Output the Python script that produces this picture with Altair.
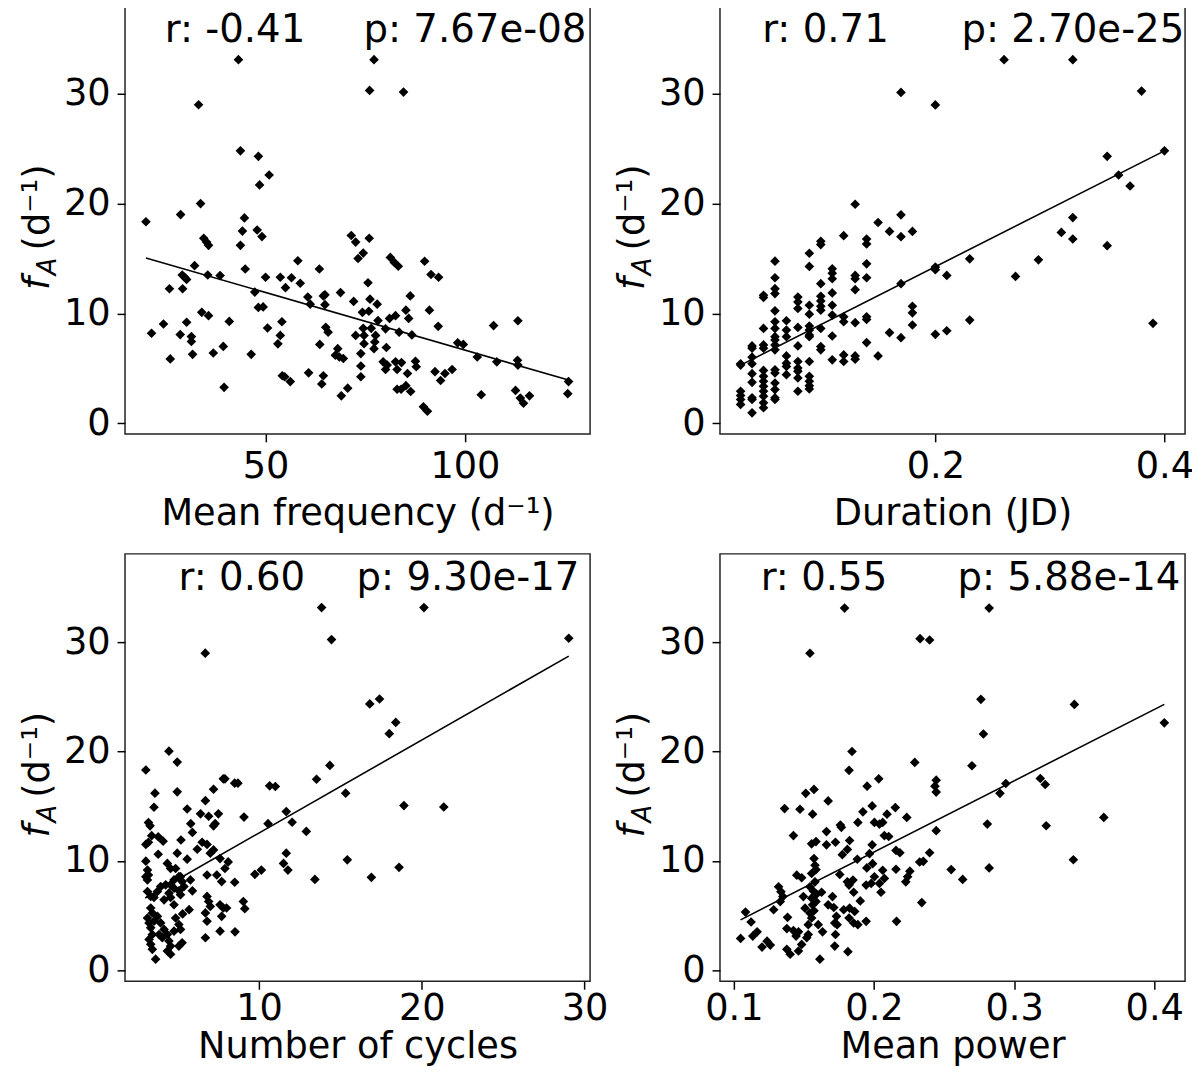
import altair as alt
import pandas as pd

FONT = "DejaVu Sans"

# Mean frequency (d^-1) vs f_A
freq_pts = [
    (20.0, 18.35), (43.2, 33.1), (33.2, 29.0), (43.7, 24.8), (48.2, 24.3), (50.9, 22.6), (48.5, 21.7),
    (33.7, 20.0), (28.7, 19.0), (44.7, 18.7), (44.2, 17.5), (47.9, 17.6), (49.1, 17.0), (34.5, 16.85),
    (35.2, 16.5), (35.7, 16.2), (43.7, 16.2), (71.5, 17.1), (72.6, 16.5), (73.2, 15.0), (58.1, 14.8),
    (63.5, 14.05), (32.2, 14.35), (44.9, 14.05), (29.1, 13.5), (29.7, 13.3), (30.2, 13.1), (35.5, 13.5),
    (38.6, 13.45), (50.0, 13.3), (53.7, 13.3), (56.5, 13.25), (55.0, 12.35), (58.7, 12.75), (25.9, 12.25),
    (29.2, 12.25), (47.3, 11.95), (60.6, 11.5), (61.2, 10.85), (64.9, 11.7), (64.5, 11.6), (64.9, 10.8),
    (68.8, 11.9), (72.1, 11.1), (48.2, 10.55), (49.4, 10.6), (34.0, 10.1), (35.7, 9.8), (24.4, 9.04),
    (21.4, 8.2), (30.2, 9.2), (28.6, 8.08), (31.4, 7.9), (31.4, 7.45), (40.9, 9.28), (50.5, 8.68),
    (54.1, 9.25), (53.7, 8.0), (53.1, 7.24), (65.1, 8.74), (65.7, 8.3), (63.6, 7.18), (68.1, 6.8),
    (67.5, 6.2), (68.5, 6.04), (69.5, 5.9), (26.1, 5.86), (31.7, 6.28), (36.9, 6.4), (39.4, 7.0),
    (46.4, 6.28), (54.2, 4.33), (54.8, 4.24), (56.2, 3.8), (60.8, 4.6), (64.5, 4.33), (64.1, 3.58),
    (39.6, 3.28), (69.0, 2.5), (70.6, 3.2),
    (77.2, 33.1), (76.1, 30.3), (84.6, 30.15), (74.5, 15.5), (76.0, 16.85), (81.3, 15.1), (82.3, 14.65),
    (83.3, 14.3), (89.9, 14.75), (91.5, 13.55), (93.4, 13.3), (75.7, 12.8), (86.3, 11.6), (91.1, 10.3),
    (76.2, 11.3), (78.0, 10.85), (74.3, 10.1), (75.9, 10.2), (85.2, 10.3), (85.9, 9.55), (81.1, 9.55),
    (82.6, 9.8), (78.2, 9.35), (80.1, 8.6), (83.5, 8.3), (86.7, 8.05), (93.3, 8.83), (76.5, 8.65),
    (74.5, 8.65), (77.6, 8.0), (74.7, 8.0), (72.6, 8.0), (77.4, 7.4), (77.2, 6.8), (74.7, 7.25),
    (80.3, 6.9), (73.9, 6.35), (98.2, 7.33), (99.6, 7.18), (107.2, 8.9), (113.3, 9.34), (103.1, 6.04),
    (108.0, 5.6), (113.2, 5.74), (113.3, 5.3), (79.5, 5.6), (80.5, 5.3), (80.1, 4.9), (82.6, 5.6),
    (84.1, 5.53), (83.0, 4.9), (87.6, 5.65), (87.8, 5.15), (85.6, 4.54), (73.9, 5.22), (73.9, 4.24),
    (92.5, 4.7), (93.9, 3.9), (95.0, 4.54), (96.8, 4.9), (85.2, 3.43), (84.0, 3.1), (83.0, 3.1),
    (86.4, 2.9), (89.6, 1.5), (90.6, 1.1), (104.1, 2.6), (112.7, 3.0), (113.9, 2.3), (114.7, 1.83),
    (116.2, 2.5), (126.0, 3.8), (125.8, 2.7),
]
freq_fit_x = [20.0, 126.0]
freq_fit_y = [15.05, 3.94]

# Duration (JD) vs f_A, durations come in steps of ~0.01 JD
dur_cols = {
    0.03: [5.42, 5.3, 2.92, 2.53, 2.17, 1.72],
    0.04: [7.05, 6.84, 6.02, 5.42, 4.52, 3.73, 2.32, 2.17, 0.96],
    0.05: [11.66, 11.45, 8.64, 7.14, 6.84, 4.82, 4.28, 3.83, 3.37, 2.92, 2.47, 1.87, 1.42],
    0.06: [14.76, 13.25, 12.26, 11.81, 10.24, 9.25, 8.64, 7.89, 7.59, 7.14, 6.69, 4.88, 4.58, 3.67, 3.07, 2.32, 2.17],
    0.07: [9.34, 8.49, 7.89, 6.14, 5.48, 5.18, 4.43],
    0.08: [11.5, 11.05, 10.45, 8.73, 7.05, 5.63, 5.03, 4.73, 4.13, 2.92],
    0.09: [15.48, 14.28, 10.75, 9.94, 8.86, 8.49, 8.04, 7.89, 5.63, 4.28, 3.83, 3.43, 3.13],
    0.10: [16.57, 16.27, 12.71, 11.57, 11.14, 10.66, 10.3, 8.64, 6.99, 6.69],
    0.11: [14.07, 13.67, 13.16, 11.87, 10.75, 9.85, 7.95, 5.78],
    0.12: [17.08, 9.7, 9.25, 6.23, 5.63],
    0.13: [19.94, 13.46, 13.16, 12.17, 9.16, 6.14, 5.84],
    0.14: [16.78, 16.33, 14.52, 13.25, 9.7, 9.46, 7.35],
    0.15: [18.28, 6.14],
    0.16: [17.47, 8.25],
    0.17: [30.12, 18.98, 16.99, 12.71, 7.8],
    0.18: [17.47, 10.66, 10.06, 8.95],
    0.20: [28.98, 14.22, 13.98, 8.1],
    0.21: [13.46, 8.43],
    0.23: [14.97, 9.4],
    0.26: [33.1],
    0.27: [13.37],
    0.29: [14.88],
    0.31: [17.38],
    0.32: [33.1, 18.73, 16.78],
    0.35: [24.3, 16.17],
    0.36: [22.6],
    0.37: [21.6],
    0.38: [30.24],
    0.39: [9.1],
    0.40: [24.8],
}
dur_pts = [(d, v) for d, vals in dur_cols.items() for v in vals]
dur_fit_x = [0.03, 0.40]
dur_fit_y = [5.3, 24.8]

# Number of cycles vs f_A
cyc_pts = [
    (6.69, 29.0), (4.46, 20.03), (4.97, 19.03), (3.04, 18.31), (3.6, 16.19), (4.97, 16.31), (3.54, 14.9),
    (7.8, 17.5), (7.9, 17.5), (8.5, 17.1), (8.7, 17.1), (7.2, 16.55), (6.7, 15.5), (5.58, 14.74),
    (6.4, 14.3), (6.9, 14.08), (7.2, 13.2), (7.3, 13.4), (7.5, 14.3), (5.8, 13.4), (5.9, 12.6),
    (9.07, 14.0), (10.55, 13.4), (11.0, 16.8), (10.65, 16.86), (11.67, 14.5), (3.2, 13.5), (3.3, 13.2),
    (3.4, 12.3), (3.8, 12.2), (4.1, 11.8), (3.04, 11.5), (3.2, 11.7), (5.2, 11.9), (6.5, 11.7),
    (6.8, 11.5), (7.2, 11.0), (7.0, 10.7), (6.2, 11.06), (3.8, 10.6), (4.97, 10.7), (5.58, 10.15),
    (3.04, 9.97), (3.14, 9.15), (3.2, 8.7), (3.04, 8.55), (3.14, 8.25), (4.36, 9.76), (4.56, 9.3),
    (4.87, 9.3), (5.07, 8.55), (4.77, 8.25), (4.26, 7.8), (3.95, 7.64), (3.75, 7.19), (4.56, 7.8),
    (4.77, 7.5), (4.46, 7.04), (5.17, 8.55), (5.27, 8.1), (5.38, 7.64), (5.78, 8.25), (5.9, 7.25),
    (3.14, 7.19), (3.34, 6.74), (3.54, 6.65), (4.16, 6.43), (4.56, 6.65), (4.77, 5.98), (5.07, 7.25),
    (5.17, 6.9), (6.8, 8.7), (7.4, 8.7), (7.7, 8.1), (8.1, 9.9), (7.9, 9.3), (8.5, 8.04), (7.6, 10.2),
    (9.74, 8.76), (10.14, 9.15), (11.67, 10.7), (11.5, 9.76), (11.77, 9.15), (6.8, 6.74), (6.9, 6.28),
    (7.0, 5.83), (6.7, 5.23), (6.8, 4.47), (7.6, 5.98), (7.8, 5.68), (8.0, 5.68), (7.7, 4.92),
    (7.6, 3.56), (8.52, 3.5), (6.7, 2.96), (9.03, 6.28), (9.12, 5.62), (5.7, 5.53), (5.3, 5.14),
    (3.34, 5.68), (3.44, 5.23), (3.14, 4.77), (3.24, 4.32), (3.54, 4.47), (3.34, 3.87), (3.44, 3.26),
    (3.24, 2.81), (3.34, 2.36), (3.44, 1.9), (3.64, 1.0), (3.75, 4.92), (3.95, 4.32), (4.16, 3.72),
    (3.85, 3.26), (4.05, 2.96), (4.36, 3.26), (4.46, 2.66), (4.56, 2.2), (4.36, 1.75), (4.56, 1.45),
    (4.87, 4.77), (5.07, 4.17), (5.17, 3.72), (4.77, 3.56), (5.27, 2.5), (5.07, 2.2),
    (13.84, 33.17), (14.45, 30.24), (20.13, 33.17), (29.03, 30.36), (16.8, 24.35), (17.4, 24.8),
    (18.4, 22.66), (18.0, 21.63), (14.35, 18.73), (13.53, 17.46), (15.32, 16.19), (18.9, 15.05),
    (21.35, 14.92), (12.03, 13.53), (12.9, 12.69), (15.42, 10.09), (13.43, 8.3), (16.9, 8.49),
    (18.6, 9.4),
]
cyc_fit_x = [3.0, 29.03]
cyc_fit_y = [6.6, 28.73]

# Mean power vs f_A
pow_pts = [
    (0.179, 33.12), (0.1543, 28.99), (0.2329, 30.32), (0.2397, 30.2), (0.1843, 20.0), (0.1822, 18.28),
    (0.2291, 19.0), (0.2034, 17.5), (0.1951, 16.83), (0.2444, 17.38), (0.2435, 16.83), (0.2444, 16.29),
    (0.1513, 16.17), (0.1572, 16.53), (0.1673, 15.48), (0.1362, 14.78), (0.1472, 14.72), (0.1562, 14.27),
    (0.1987, 15.02), (0.1921, 14.48), (0.2152, 14.87), (0.2093, 14.27), (0.2234, 13.97), (0.1885, 13.51),
    (0.2003, 13.51), (0.2039, 13.36), (0.2062, 13.51), (0.176, 13.27), (0.1767, 13.06), (0.1661, 12.67),
    (0.1425, 12.31), (0.2074, 12.31), (0.2105, 12.22), (0.1826, 11.86), (0.1725, 11.7), (0.1661, 11.46),
    (0.1555, 11.55), (0.1586, 11.76), (0.1987, 11.46), (0.2157, 10.95), (0.2185, 10.74), (0.181, 11.04),
    (0.1774, 10.56), (0.2444, 12.76), (0.2397, 10.74), (0.2352, 9.95), (0.2326, 9.89), (0.1968, 10.65),
    (0.1572, 10.2), (0.1579, 9.59), (0.1586, 9.2), (0.1555, 8.84), (0.1881, 10.14), (0.199, 9.74),
    (0.1949, 9.35), (0.2062, 9.14), (0.2157, 9.23), (0.2256, 9.05), (0.224, 8.54), (0.2227, 8.08),
    (0.1449, 8.69), (0.1484, 8.45), (0.1756, 8.75), (0.181, 8.08), (0.185, 8.24), (0.1822, 7.78),
    (0.2003, 8.54), (0.198, 7.93), (0.1944, 7.78), (0.2074, 8.39), (0.2039, 7.93), (0.205, 7.12),
    (0.1579, 8.08), (0.1543, 7.63), (0.1567, 7.24), (0.159, 6.94), (0.1555, 6.58), (0.1586, 6.27),
    (0.1562, 5.97), (0.1319, 7.63), (0.1336, 7.18), (0.135, 6.73), (0.1331, 6.27), (0.1496, 6.73),
    (0.1626, 7.12), (0.1704, 6.73), (0.1673, 5.97), (0.1713, 5.73), (0.1855, 7.12), (0.1902, 6.33),
    (0.1284, 5.52), (0.1083, 5.31), (0.1826, 5.67), (0.1862, 5.37), (0.1784, 5.52), (0.1508, 5.67),
    (0.1543, 5.22), (0.1572, 5.43), (0.1555, 4.77), (0.1531, 4.16), (0.1602, 4.16), (0.1383, 4.83),
    (0.1732, 4.92), (0.172, 4.31), (0.1737, 4.16), (0.1822, 4.77), (0.1855, 4.31), (0.1885, 4.16),
    (0.1944, 4.46), (0.2161, 4.46), (0.2341, 6.18), (0.1123, 4.4), (0.1166, 3.5), (0.1135, 3.11),
    (0.1048, 2.9), (0.1378, 3.8), (0.1425, 3.62), (0.1461, 3.5), (0.1444, 3.11), (0.1237, 2.65),
    (0.126, 2.29), (0.1201, 2.11), (0.1378, 1.9), (0.1402, 1.45), (0.1461, 1.75), (0.1484, 2.35),
    (0.152, 2.96), (0.1531, 3.26), (0.1633, 3.5), (0.1725, 3.26), (0.172, 2.2), (0.1814, 1.69),
    (0.1614, 1.0),
    (0.2822, 33.12), (0.2763, 24.77), (0.2781, 21.6), (0.343, 24.31), (0.4072, 22.62), (0.2699, 18.7),
    (0.2941, 17.07), (0.2899, 16.17), (0.3187, 17.53), (0.3222, 16.98), (0.2809, 13.36), (0.3229, 13.21),
    (0.364, 13.97), (0.2551, 9.2), (0.2633, 8.3), (0.2822, 9.35), (0.3423, 10.1),
]
pow_fit_x = [0.1048, 0.4072]
pow_fit_y = [4.6, 24.31]

y_ticks = [0, 10, 20, 30]
W, H = 469, 431


def label(txt, x, y, size, style="normal", angle=0, clip=False):
    return alt.Chart(pd.DataFrame({"t": [txt]})).mark_text(
        font=FONT, fontSize=size, fontStyle=style, angle=angle, align="left",
        baseline="alphabetic", color="black", clip=clip
    ).encode(text="t:N", x=alt.value(x), y=alt.value(y))


def panel(pts, fit_x, fit_y, x_dom, x_ticks, x_fmt, x_title, label_pad, title_pad, y_dom,
          r_txt, p_txt, r_x, p_x):
    df = pd.DataFrame(pts, columns=["x", "y"])
    fit = pd.DataFrame({"x": fit_x, "y": fit_y})
    x_enc = alt.X("x:Q", scale=alt.Scale(domain=x_dom, nice=False, zero=False),
                  axis=alt.Axis(values=x_ticks, format=x_fmt, title=x_title,
                                labelPadding=label_pad, titlePadding=title_pad))
    y_enc = alt.Y("y:Q", scale=alt.Scale(domain=y_dom, nice=False, zero=False),
                  axis=alt.Axis(values=y_ticks, format="d", title=None, labelPadding=7))
    dots = alt.Chart(df).mark_point(shape="diamond", filled=True, size=95, color="black", opacity=1).encode(
        x=x_enc, y=y_enc)
    line = alt.Chart(fit).mark_line(color="black", strokeWidth=1.6).encode(x=x_enc, y=y_enc)
    layers = [
        dots, line,
        label(r_txt, r_x, 36, 39, clip=True),
        label(p_txt, p_x, 36, 39, clip=True),
        # y title: italic f with subscript A, then (d^-1)
        label("f", -76.5, 286, 37, style="italic", angle=270),
        label("A", -70, 271, 26, style="italic", angle=270),
        label("(d\u207b\u00b9)", -76.5, 246, 37, angle=270),
    ]
    return alt.layer(*layers).properties(width=W, height=H)


p1 = panel(freq_pts, freq_fit_x, freq_fit_y, [14.75, 131.4], [50, 100], "d",
           "Mean frequency (d\u207b\u00b9)", 7, 11, [-0.96, 37.94],
           "r: -0.41", "p: 7.67e-08", 40, 240.5)
p2 = panel(dur_pts, dur_fit_x, dur_fit_y, [0.012, 0.418], [0.2, 0.4], ".1f",
           "Duration (JD)", 7, 11, [-0.96, 37.94],
           "r: 0.71", "p: 2.70e-25", 42.5, 243.5)
p3 = panel(cyc_pts, cyc_fit_x, cyc_fit_y, [1.76, 30.34], [10, 20, 30], "d",
           "Number of cycles", 2, 2, [-1.02, 38.08],
           "r: 0.60", "p: 9.30e-17", 54, 233.5)
p4 = panel(pow_pts, pow_fit_x, pow_fit_y, [0.0901, 0.422], [0.1, 0.2, 0.3, 0.4], ".1f",
           "Mean power", 2, 2, [-1.02, 38.08],
           "r: 0.55", "p: 5.88e-14", 41, 239.5)

chart = alt.concat(
    p1, p2, p3, p4, columns=2, spacing={"row": 121, "column": 131}, bounds="flush"
).properties(
    padding={"left": 10, "top": -7, "right": -3, "bottom": 0}
).configure_axis(
    labelFont=FONT, labelFontSize=37, labelColor="black",
    titleFont=FONT, titleFontSize=37, titleFontWeight="normal", titleColor="black",
    tickColor="black", tickSize=8, tickWidth=1.5, domain=False, grid=False
).configure_view(
    stroke="#222", strokeWidth=1.5
)

chart.save("out.html", embed_options={"renderer": "svg", "actions": False})
